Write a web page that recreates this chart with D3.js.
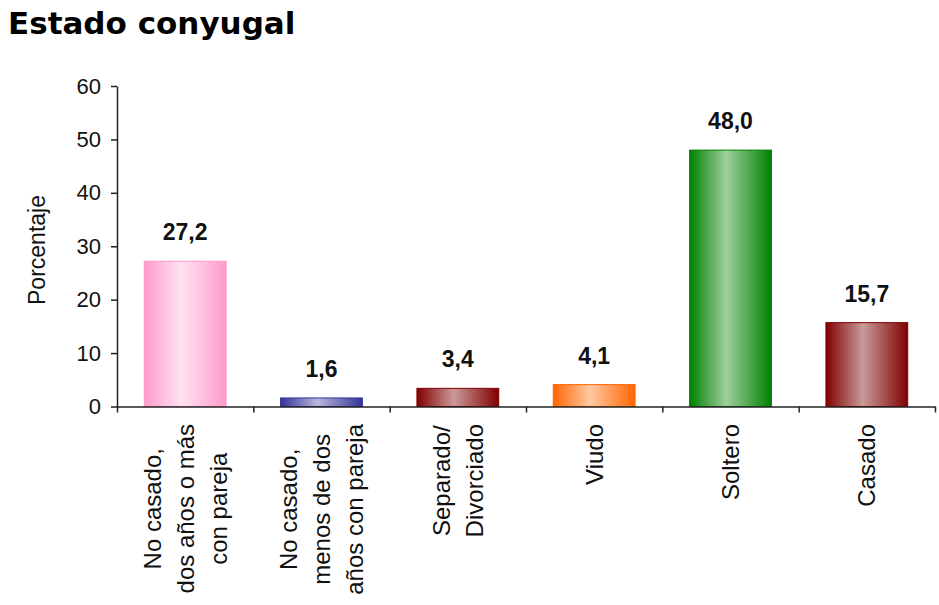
<!DOCTYPE html>
<html>
<head>
<meta charset="utf-8">
<script src="https://cdn.jsdelivr.net/npm/d3@7"></script>
<style>
  body { margin: 0; background: #fff; }
  svg { display: block; }
</style>
</head>
<body>
<div id="chart"></div>
<script>
// data
var categories = [
  ["No casado,", "dos años o más", "con pareja"],
  ["No casado,", "menos de dos", "años con pareja"],
  ["Separado/", "Divorciado"],
  ["Viudo"],
  ["Soltero"],
  ["Casado"]
];
var values = [27.2, 1.6, 3.4, 4.1, 48.0, 15.7];
var yTicks = [0, 10, 20, 30, 40, 50, 60];

// bar colours: edge colour, light centre colour
var edgeColors = ["#ff99cc", "#333399", "#800000", "#ff6600", "#008000", "#800000"];
var lightColors = ["#ffe3f1", "#b8b8dc", "#cc9999", "#ffc9a3", "#9fd09f", "#c99a9a"];

var width = 939, height = 605;
var plotLeft = 117, plotRight = 935, plotTop = 86, plotBottom = 406.5;

var svg = d3.select("#chart").append("svg")
    .attr("width", width)
    .attr("height", height);

// gradients for the "cylinder" look
var defs = svg.append("defs");
values.forEach(function(v, i){
    var g = defs.append("linearGradient")
        .attr("id", "grad" + i)
        .attr("x1", "0%").attr("x2", "100%")
        .attr("y1", "0%").attr("y2", "0%");
    g.append("stop").attr("offset", "0%").attr("stop-color", edgeColors[i]);
    g.append("stop").attr("offset", "45%").attr("stop-color", lightColors[i]);
    g.append("stop").attr("offset", "100%").attr("stop-color", edgeColors[i]);
});

// title
svg.append("text")
    .attr("x", 8)
    .attr("y", 34)
    .style("font-family", "'DejaVu Sans', Verdana, sans-serif")
    .style("font-weight", "bold")
    .style("font-size", "31px")
    .attr("fill", "#000")
    .text("Estado conyugal");

// scales
var xScale = d3.scaleBand()
    .domain(d3.range(values.length))
    .range([plotLeft, plotRight])
    .paddingInner(0.4)
    .paddingOuter(0.2);

var xEdges = d3.scaleLinear()
    .domain([0, values.length])
    .range([plotLeft, plotRight]);

var yScale = d3.scaleLinear()
    .domain([0, 60])
    .range([plotBottom, plotTop]);

// bars
svg.selectAll("rect.bar")
    .data(values)
    .enter()
    .append("rect")
        .attr("class", "bar")
        .attr("x", function(d, i){ return xScale(i); })
        .attr("y", function(d){ return yScale(d); })
        .attr("width", xScale.bandwidth())
        .attr("height", function(d){ return plotBottom - yScale(d); })
        .attr("fill", function(d, i){ return "url(#grad" + i + ")"; })
        .attr("stroke", function(d, i){ return edgeColors[i]; })
        .attr("stroke-width", 1);

// value labels
svg.selectAll("text.val")
    .data(values)
    .enter()
    .append("text")
        .attr("class", "val")
        .attr("x", function(d, i){ return xScale(i) + xScale.bandwidth() / 2; })
        .attr("y", function(d){ return yScale(d) - 21; })
        .attr("text-anchor", "middle")
        .style("font-family", "'Liberation Sans', Arial, sans-serif")
        .style("font-weight", "bold")
        .style("font-size", "23px")
        .attr("fill", "#111")
        .text(function(d){ return d.toFixed(1).replace(".", ","); });

// y axis
var yAxis = d3.axisLeft(yScale)
    .tickValues(yTicks)
    .tickSizeInner(6)
    .tickSizeOuter(0)
    .tickPadding(10);

var gy = svg.append("g")
    .attr("transform", "translate(" + plotLeft + ",0)")
    .call(yAxis);
gy.select(".domain").attr("stroke", "#222").attr("stroke-width", 1.5);
gy.selectAll(".tick line").attr("stroke", "#222").attr("stroke-width", 1.5);
gy.selectAll(".tick text")
    .style("font-family", "'Liberation Sans', Arial, sans-serif")
    .style("font-size", "22px")
    .attr("fill", "#111");

// x axis with ticks on the category boundaries
var xAxis = d3.axisBottom(xEdges)
    .tickValues(d3.range(values.length + 1))
    .tickFormat("")
    .tickSizeInner(6)
    .tickSizeOuter(0);

var gx = svg.append("g")
    .attr("transform", "translate(0," + plotBottom + ")")
    .call(xAxis);
gx.select(".domain").attr("stroke", "#222").attr("stroke-width", 1.5);
gx.selectAll(".tick line").attr("stroke", "#222").attr("stroke-width", 1.5);

// category labels, rotated, lines centred on the longest one
var labelTop = 424;
var lineGap = 33;
categories.forEach(function(lines, i){
    var cx = xScale(i) + xScale.bandwidth() / 2;
    var g = svg.append("g");
    var texts = lines.map(function(line, j){
        return g.append("text")
            .attr("text-anchor", "middle")
            .attr("dy", "0.35em")
            .style("font-family", "'Liberation Sans', Arial, sans-serif")
            .style("font-size", "24px")
            .attr("fill", "#111")
            .text(line);
    });
    var maxLen = d3.max(texts, function(t){ return t.node().getComputedTextLength(); });
    texts.forEach(function(t, j){
        var off = (j - (lines.length - 1) / 2) * lineGap;
        t.attr("transform", "translate(" + (cx + off) + "," + (labelTop + maxLen / 2) + ") rotate(-90)");
    });
});

// y axis title
svg.append("text")
    .attr("transform", "translate(37,250) rotate(-90)")
    .attr("text-anchor", "middle")
    .attr("dy", "0.35em")
    .style("font-family", "'Liberation Sans', Arial, sans-serif")
    .style("font-size", "23px")
    .attr("fill", "#111")
    .text("Porcentaje");
</script>
</body>
</html>
